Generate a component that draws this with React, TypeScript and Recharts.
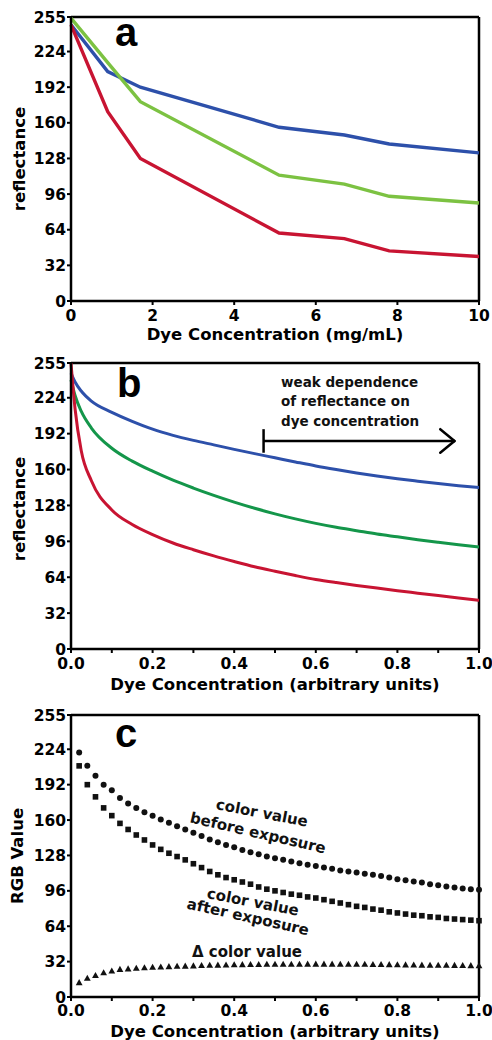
import { LineChart, Line, ScatterChart, Scatter, XAxis, YAxis, ReferenceLine } from 'recharts';

const REFL_TICKS = [0, 32, 64, 96, 128, 160, 192, 224, 255];
const MG_TICKS = [0, 2, 4, 6, 8, 10];
const ARB_TICKS = [0, 0.1, 0.2, 0.3, 0.4, 0.5, 0.6, 0.7, 0.8, 0.9, 1.0];

// panel a: measured reflectance vs dye concentration (mg/mL)
const concA = [0, 0.9, 1.7, 5.1, 6.7, 7.8, 10];
const blueA = [248, 206, 192, 156, 149, 141, 133];
const greenA = [254, 214, 179, 113, 105, 94, 88];
const redA = [248, 170, 128, 61, 56, 45, 40];

// panel b: model curves (arbitrary units)
const concB = [0, 0.01, 0.025, 0.05, 0.1, 0.15, 0.2, 0.25, 0.3, 0.35, 0.4, 0.45, 0.5, 0.55, 0.6, 0.65, 0.7, 0.75, 0.8, 0.85, 0.9, 0.95, 1.0];
const blueB = [246, 238, 230, 221, 211, 203, 196, 190.5, 186, 182, 178, 174.2, 170.5, 166.8, 163.2, 160, 157, 154.3, 151.8, 149.6, 147.5, 145.6, 144];
const greenB = [240, 226, 212, 197, 179, 167.5, 158.5, 150.5, 143.5, 137, 131, 125.5, 120.5, 116, 112, 108.5, 105.5, 102.5, 100, 97.5, 95.2, 93, 91];
const redB = [255, 214, 177, 150, 124, 111, 102, 94.5, 88.5, 83, 78, 73.3, 69.3, 65.5, 62, 59.2, 56.7, 54.3, 52, 49.8, 47.6, 45.5, 43.5];

// panel c: RGB value before / after exposure and the difference
const concC = [
  0.02, 0.04, 0.06, 0.08, 0.1, 0.12, 0.14, 0.16, 0.18, 0.2,
  0.22, 0.24, 0.26, 0.28, 0.3, 0.32, 0.34, 0.36, 0.38, 0.4,
  0.42, 0.44, 0.46, 0.48, 0.5, 0.52, 0.54, 0.56, 0.58, 0.6,
  0.62, 0.64, 0.66, 0.68, 0.7, 0.72, 0.74, 0.76, 0.78, 0.8,
  0.82, 0.84, 0.86, 0.88, 0.9, 0.92, 0.94, 0.96, 0.98, 1.0,
];
const beforeC = [
  221, 209, 200, 192, 187, 180, 175, 171, 167, 164,
  160.5, 157.5, 154.5, 151.5, 148.5, 145.5, 142.5, 140, 137.5, 135.5,
  133, 131, 129, 127, 125.5, 124, 122.5, 121, 119.5, 118.5,
  117, 116, 114.5, 113.5, 112.5, 111.5, 110.5, 109.5, 108, 106.5,
  105.5, 104.5, 103.5, 102, 101, 100, 99, 98, 97.5, 97,
];
const afterC = [
  209, 192, 181, 171, 164, 157, 151.5, 146.5, 142, 137.5,
  133.5, 130, 127, 124, 120.5, 117, 113.5, 110.5, 108, 106,
  104, 102, 99.5, 97.5, 96, 94.5, 93, 92, 90.5, 89.5,
  88, 86.5, 85, 83.5, 82, 81, 79.5, 78.5, 77, 76,
  75, 74, 73.5, 72.5, 72, 71, 70.5, 70, 69.5, 69,
];
const deltaC = [
  13, 17, 19.5, 22, 23.5, 25, 25.5, 26, 26.5, 27,
  27.2, 27.5, 27.8, 28, 28.2, 28.5, 28.7, 28.9, 29, 29.2,
  29.3, 29.4, 29.5, 29.6, 29.6, 29.7, 29.7, 29.7, 29.8, 29.8,
  29.8, 29.8, 29.7, 29.7, 29.6, 29.6, 29.5, 29.4, 29.3, 29.2,
  29.1, 29, 28.9, 28.8, 28.8, 28.7, 28.6, 28.5, 28.4, 28.3,
];

const BLUE = '#2d50aa';
const LIGHT_GREEN = '#7cc242';
const DARK_GREEN = '#14964a';
const RED = '#c81432';
const INK = '#111';

const FONT = 'DejaVu Sans';
const tickStyle = { fill: '#000', fontSize: 15.5, fontWeight: 700, fontFamily: FONT };
const titleStyle = { fill: '#000', fontSize: 16.5, fontWeight: 700, fontFamily: FONT };
const axisLine = { stroke: '#000', strokeWidth: 2.5 };
const tickLine = { stroke: '#000', strokeWidth: 2 };
const frame = { stroke: '#000', strokeWidth: 2.5 };

// minor ticks every 0.1, labels every 0.2
const arbLabel = (v: number) => (Math.round(v * 10) % 2 === 0 ? v.toFixed(1) : '');

const dataA = concA.map((c, i) => ({ c, blue: blueA[i], green: greenA[i], red: redA[i] }));
const dataB = concB.map((c, i) => ({ c, blue: blueB[i], green: greenB[i], red: redB[i] }));
const beforePts = concC.map((x, i) => ({ x, y: beforeC[i] }));
const afterPts = concC.map((x, i) => ({ x, y: afterC[i] }));
const deltaPts = concC.map((x, i) => ({ x, y: deltaC[i] }));

const Dot = (p: any) => <circle cx={p.cx} cy={p.cy} r={3} fill={INK} />;
const Sq = (p: any) => <rect x={p.cx - 2.8} y={p.cy - 2.8} width={5.6} height={5.6} fill={INK} />;
const Tri = (p: any) => (
  <path d={`M${p.cx},${p.cy - 3.5} L${p.cx + 3.4},${p.cy + 2.6} L${p.cx - 3.4},${p.cy + 2.6} Z`} fill={INK} />
);

export default function App() {
  const letter = { fontFamily: 'Liberation Sans', fontWeight: 700, fontSize: 40, fill: '#000' };
  const note = { fontFamily: FONT, fontWeight: 700, fontSize: 13.5, fill: '#111' };
  const curveNote = { fontFamily: FONT, fontWeight: 700, fontSize: 15, fill: '#111' };

  return (
    <div style={{ position: 'absolute', left: 0, top: 0, width: 492, height: 1040, background: '#fff' }}>
      {/* a */}
      <div style={{ position: 'absolute', left: 0, top: 0 }}>
        <LineChart width={492} height={350} data={dataA} margin={{ top: 17, right: 13, bottom: 5, left: 0 }}>
          <XAxis
            dataKey="c"
            type="number"
            domain={[0, 10]}
            ticks={MG_TICKS}
            interval={0}
            height={44}
            tick={tickStyle}
            tickSize={4}
            tickMargin={5}
            axisLine={axisLine}
            tickLine={tickLine}
            label={{ value: 'Dye Concentration (mg/mL)', position: 'center', dy: 11.5, ...titleStyle }}
          />
          <YAxis
            type="number"
            domain={[0, 255]}
            ticks={REFL_TICKS}
            interval={0}
            width={71}
            tick={tickStyle}
            tickSize={4}
            tickMargin={1}
            axisLine={axisLine}
            tickLine={tickLine}
            label={{ value: 'reflectance', angle: -90, position: 'center', dx: -16, ...titleStyle }}
          />
          <ReferenceLine y={255} {...frame} />
          <ReferenceLine x={10} {...frame} />
          <Line type="linear" dataKey="blue" stroke={BLUE} strokeWidth={3.4} dot={false} isAnimationActive={false} />
          <Line type="linear" dataKey="green" stroke={LIGHT_GREEN} strokeWidth={3.4} dot={false} isAnimationActive={false} />
          <Line type="linear" dataKey="red" stroke={RED} strokeWidth={3.4} dot={false} isAnimationActive={false} />
        </LineChart>
      </div>

      {/* b */}
      <div style={{ position: 'absolute', left: 0, top: 345 }}>
        <LineChart width={492} height={350} data={dataB} margin={{ top: 18, right: 13, bottom: 5, left: 0 }}>
          <XAxis
            dataKey="c"
            type="number"
            domain={[0, 1]}
            ticks={ARB_TICKS}
            interval={0}
            tickFormatter={arbLabel}
            height={41}
            tick={tickStyle}
            tickSize={4}
            tickMargin={5}
            axisLine={axisLine}
            tickLine={tickLine}
            label={{ value: 'Dye Concentration (arbitrary units)', position: 'center', dy: 15, ...titleStyle }}
          />
          <YAxis
            type="number"
            domain={[0, 255]}
            ticks={REFL_TICKS}
            interval={0}
            width={71}
            tick={tickStyle}
            tickSize={4}
            tickMargin={1}
            axisLine={axisLine}
            tickLine={tickLine}
            label={{ value: 'reflectance', angle: -90, position: 'center', dx: -16, dy: 3, ...titleStyle }}
          />
          <ReferenceLine y={255} {...frame} />
          <ReferenceLine x={1} {...frame} />
          {/* arrow: weak dependence region */}
          <ReferenceLine segment={[{ x: 0.472, y: 185.5 }, { x: 0.94, y: 185.5 }]} stroke="#000" strokeWidth={2.5} />
          <ReferenceLine segment={[{ x: 0.472, y: 196 }, { x: 0.472, y: 175 }]} stroke="#000" strokeWidth={2.5} />
          <ReferenceLine segment={[{ x: 0.905, y: 196 }, { x: 0.94, y: 185.5 }]} stroke="#000" strokeWidth={2.5} strokeLinecap="round" />
          <ReferenceLine segment={[{ x: 0.94, y: 185.5 }, { x: 0.905, y: 175 }]} stroke="#000" strokeWidth={2.5} strokeLinecap="round" />
          <Line type="monotone" dataKey="blue" stroke={BLUE} strokeWidth={3} dot={false} isAnimationActive={false} />
          <Line type="monotone" dataKey="green" stroke={DARK_GREEN} strokeWidth={3} dot={false} isAnimationActive={false} />
          <Line type="monotone" dataKey="red" stroke={RED} strokeWidth={3} dot={false} isAnimationActive={false} />
        </LineChart>
      </div>

      {/* c */}
      <div style={{ position: 'absolute', left: 0, top: 690 }}>
        <ScatterChart width={492} height={350} margin={{ top: 25, right: 13, bottom: 0, left: 0 }}>
          <XAxis
            dataKey="x"
            type="number"
            domain={[0, 1]}
            ticks={ARB_TICKS}
            interval={0}
            tickFormatter={arbLabel}
            height={43}
            tick={tickStyle}
            tickSize={4}
            tickMargin={4}
            axisLine={axisLine}
            tickLine={tickLine}
            label={{ value: 'Dye Concentration (arbitrary units)', position: 'center', dy: 13, ...titleStyle }}
          />
          <YAxis
            dataKey="y"
            type="number"
            domain={[0, 255]}
            ticks={REFL_TICKS}
            interval={0}
            width={71}
            tick={tickStyle}
            tickSize={4}
            tickMargin={1}
            axisLine={axisLine}
            tickLine={tickLine}
            label={{ value: 'RGB Value', angle: -90, position: 'center', dx: -18, ...titleStyle }}
          />
          <ReferenceLine y={255} {...frame} />
          <ReferenceLine x={1} {...frame} />
          <Scatter data={beforePts} shape={Dot} isAnimationActive={false} />
          <Scatter data={afterPts} shape={Sq} isAnimationActive={false} />
          <Scatter data={deltaPts} shape={Tri} isAnimationActive={false} />
        </ScatterChart>
      </div>

      {/* panel letters and annotations */}
      <svg width={492} height={1040} style={{ position: 'absolute', left: 0, top: 0, pointerEvents: 'none' }}>
        <text x={115} y={46} {...letter}>a</text>
        <text x={117} y={397} {...letter}>b</text>
        <text x={115} y={747} {...letter}>c</text>

        <text x={281} y={387} {...note}>weak dependence</text>
        <text x={281} y={406} {...note}>of reflectance on</text>
        <text x={281} y={426} {...note}>dye concentration</text>

        <text x={262} y={813} textAnchor="middle" dominantBaseline="central" transform="rotate(11 262 813)" {...curveNote}>color value</text>
        <text x={258} y={833} textAnchor="middle" dominantBaseline="central" transform="rotate(13 258 833)" {...curveNote}>before exposure</text>
        <text x={253} y={902} textAnchor="middle" dominantBaseline="central" transform="rotate(11 253 902)" {...curveNote}>color value</text>
        <text x={248} y={917} textAnchor="middle" dominantBaseline="central" transform="rotate(12.5 248 917)" {...curveNote}>after exposure</text>
        <text x={247} y={952} textAnchor="middle" dominantBaseline="central" {...curveNote}>Δ color value</text>
      </svg>
    </div>
  );
}
